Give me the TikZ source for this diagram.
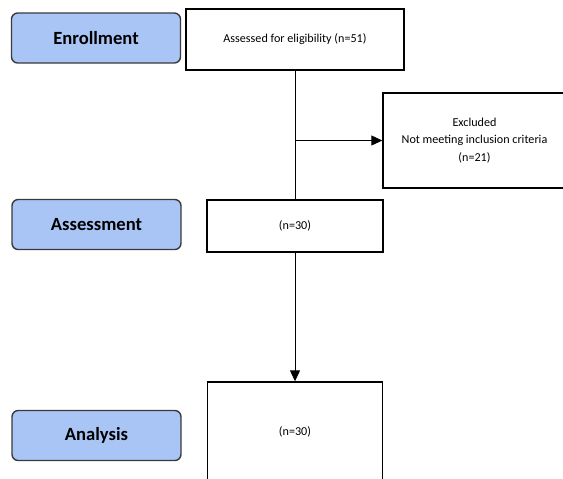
\documentclass[tikz,border=0pt]{standalone}
\usepackage{fontspec}
\setmainfont{Carlito}
\usetikzlibrary{arrows.meta, positioning, calc}
\definecolor{stageblue}{HTML}{A9C5F6}
\definecolor{edgegray}{HTML}{3A3A3A}

\begin{document}
\begin{tikzpicture}[x=0.02cm, y=-0.02cm, >={Triangle[length=2.2mm, width=2mm]}, line width=0.55pt,
  stage/.style={draw=edgegray, fill=stageblue, rounded corners=3.5pt, line width=0.8pt,
    minimum width=3.38cm, minimum height=1.0cm, font=\fontsize{10.6}{12}\selectfont\bfseries},
  flowbox/.style={draw=black, fill=white, line width=0.8pt, align=center,
    font=\fontsize{6.9}{10}\selectfont}]

% Page frame, cut at the right and at the bottom
\clip (0,0) rectangle (563,478);
\fill[white] (0,0) rectangle (563,478);

% Stage labels on the left
\node[stage] (enrol) at (96,38) {Enrollment};
\node[stage] (assesslbl) at (96.5,224.5) {Assessment};
\node[stage] (analysislbl) at (96.5,435.5) {Analysis};

% Flow boxes
\node[flowbox, minimum width=4.36cm, minimum height=1.22cm] (elig) at (295,39.5)
  {Assessed for eligibility (n=51)};
\node[flowbox, minimum width=3.66cm, minimum height=1.9cm] (excl) at (474.5,140.5)
  {Excluded\\Not meeting inclusion criteria\\(n=21)};
\node[flowbox, minimum width=3.52cm, minimum height=1.04cm] (assess) at (295,226)
  {(n=30)};
\node[flowbox, minimum width=3.5cm, minimum height=2.0cm] (anal) at (295,432)
  {(n=30)};

% Connectors
\draw (elig.south) -- (assess.north);
\draw[->] (excl.west -| elig.south) -- (excl.west);
\draw[->] (assess.south) -- (anal.north);

\end{tikzpicture}
\end{document}
